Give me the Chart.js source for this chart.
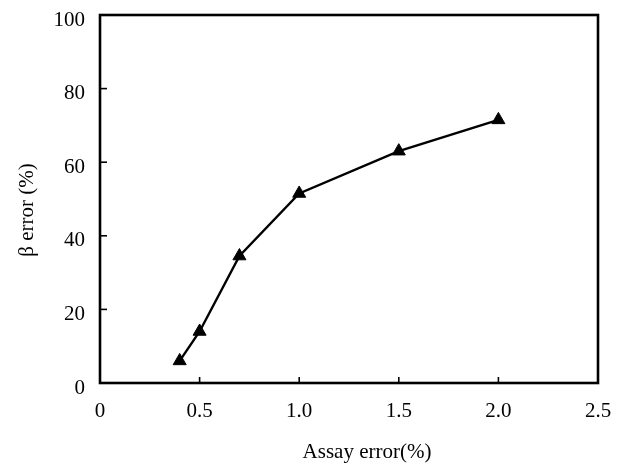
<!DOCTYPE html>
<html>
<head>
<meta charset="utf-8">
<script src="https://cdn.jsdelivr.net/npm/chart.js@4.4.1/dist/chart.umd.min.js"></script>
<style>
  html, body { margin: 0; padding: 0; background: #fff; }
  #wrap { width: 622px; height: 468px; }
</style>
</head>
<body>
<div id="wrap"><canvas id="chart" width="622" height="468"></canvas></div>
<script>
// data
const assay_error = [0.4, 0.5, 0.7, 1.0, 1.5, 2.0];
const beta_error = [6, 14, 34.5, 51.5, 63, 71.5];
const x_ticks = [0, 0.5, 1.0, 1.5, 2.0, 2.5];
const y_ticks = [0, 20, 40, 60, 80, 100];
const x_title = 'Assay error(%)';
const y_title = 'β error (%)';

const serif = '"Liberation Serif", "DejaVu Serif", serif';

// frame, inward tick marks and axis titles
const frame_plugin = {
    id: 'frame',
    afterDatasetsDraw(chart) {
        const ctx = chart.ctx;
        const a = chart.chartArea;
        const xs = chart.scales.x;
        const ys = chart.scales.y;
        ctx.save();
        ctx.strokeStyle = '#000';
        ctx.lineWidth = 1.6;
        x_ticks.slice(1, -1).forEach(v => {
            const px = xs.getPixelForValue(v);
            ctx.beginPath();
            ctx.moveTo(px, a.bottom);
            ctx.lineTo(px, a.bottom - 6);
            ctx.stroke();
        });
        y_ticks.slice(1, -1).forEach(v => {
            const py = ys.getPixelForValue(v);
            ctx.beginPath();
            ctx.moveTo(a.left, py);
            ctx.lineTo(a.left + 7, py);
            ctx.stroke();
        });
        ctx.lineWidth = 2.6;
        ctx.strokeRect(a.left, a.top, a.right - a.left, a.bottom - a.top);

        ctx.fillStyle = '#000';
        ctx.font = '21px ' + serif;
        ctx.textAlign = 'center';
        ctx.textBaseline = 'middle';
        ctx.fillText(x_title, (a.left + a.right) / 2 + 18, 452);
        ctx.translate(27, (a.top + a.bottom) / 2 + 11);
        ctx.rotate(-Math.PI / 2);
        ctx.fillText(y_title, 0, 0);
        ctx.restore();
    }
};

new Chart(document.getElementById('chart'), {
    type: 'scatter',
    data: {
        datasets: [{
            data: assay_error.map((x, i) => ({ x: x, y: beta_error[i] })),
            showLine: true,
            borderColor: '#000',
            borderWidth: 2.4,
            backgroundColor: '#000',
            pointStyle: 'triangle',
            pointRadius: 7.5,
            pointBorderWidth: 1,
            pointBorderColor: '#000',
            tension: 0
        }]
    },
    options: {
        responsive: false,
        animation: false,
        layout: { padding: { top: 15, right: 24, left: 0, bottom: 0 } },
        plugins: {
            legend: { display: false },
            tooltip: { enabled: false }
        },
        scales: {
            x: {
                type: 'linear',
                min: 0,
                max: 2.5,
                afterBuildTicks: scale => { scale.ticks = x_ticks.map(v => ({ value: v })); },
                afterFit: scale => {
                    scale.height = 85;
                    scale.paddingLeft = 0;
                    scale.paddingRight = 0;
                },
                grid: { display: false, drawTicks: false },
                border: { display: false },
                ticks: {
                    color: '#000',
                    padding: 16,
                    maxRotation: 0,
                    font: { family: serif, size: 21 },
                    callback: v => v === 0 ? '0' : v.toFixed(1)
                }
            },
            y: {
                type: 'linear',
                min: 0,
                max: 100,
                afterBuildTicks: scale => { scale.ticks = y_ticks.map(v => ({ value: v })); },
                afterFit: scale => {
                    scale.width = 100;
                    scale.paddingTop = 0;
                    scale.paddingBottom = 0;
                },
                grid: { display: false, drawTicks: false },
                border: { display: false },
                ticks: {
                    color: '#000',
                    padding: 15,
                    labelOffset: 5,
                    font: { family: serif, size: 21 }
                }
            }
        }
    },
    plugins: [frame_plugin]
});
</script>
</body>
</html>
